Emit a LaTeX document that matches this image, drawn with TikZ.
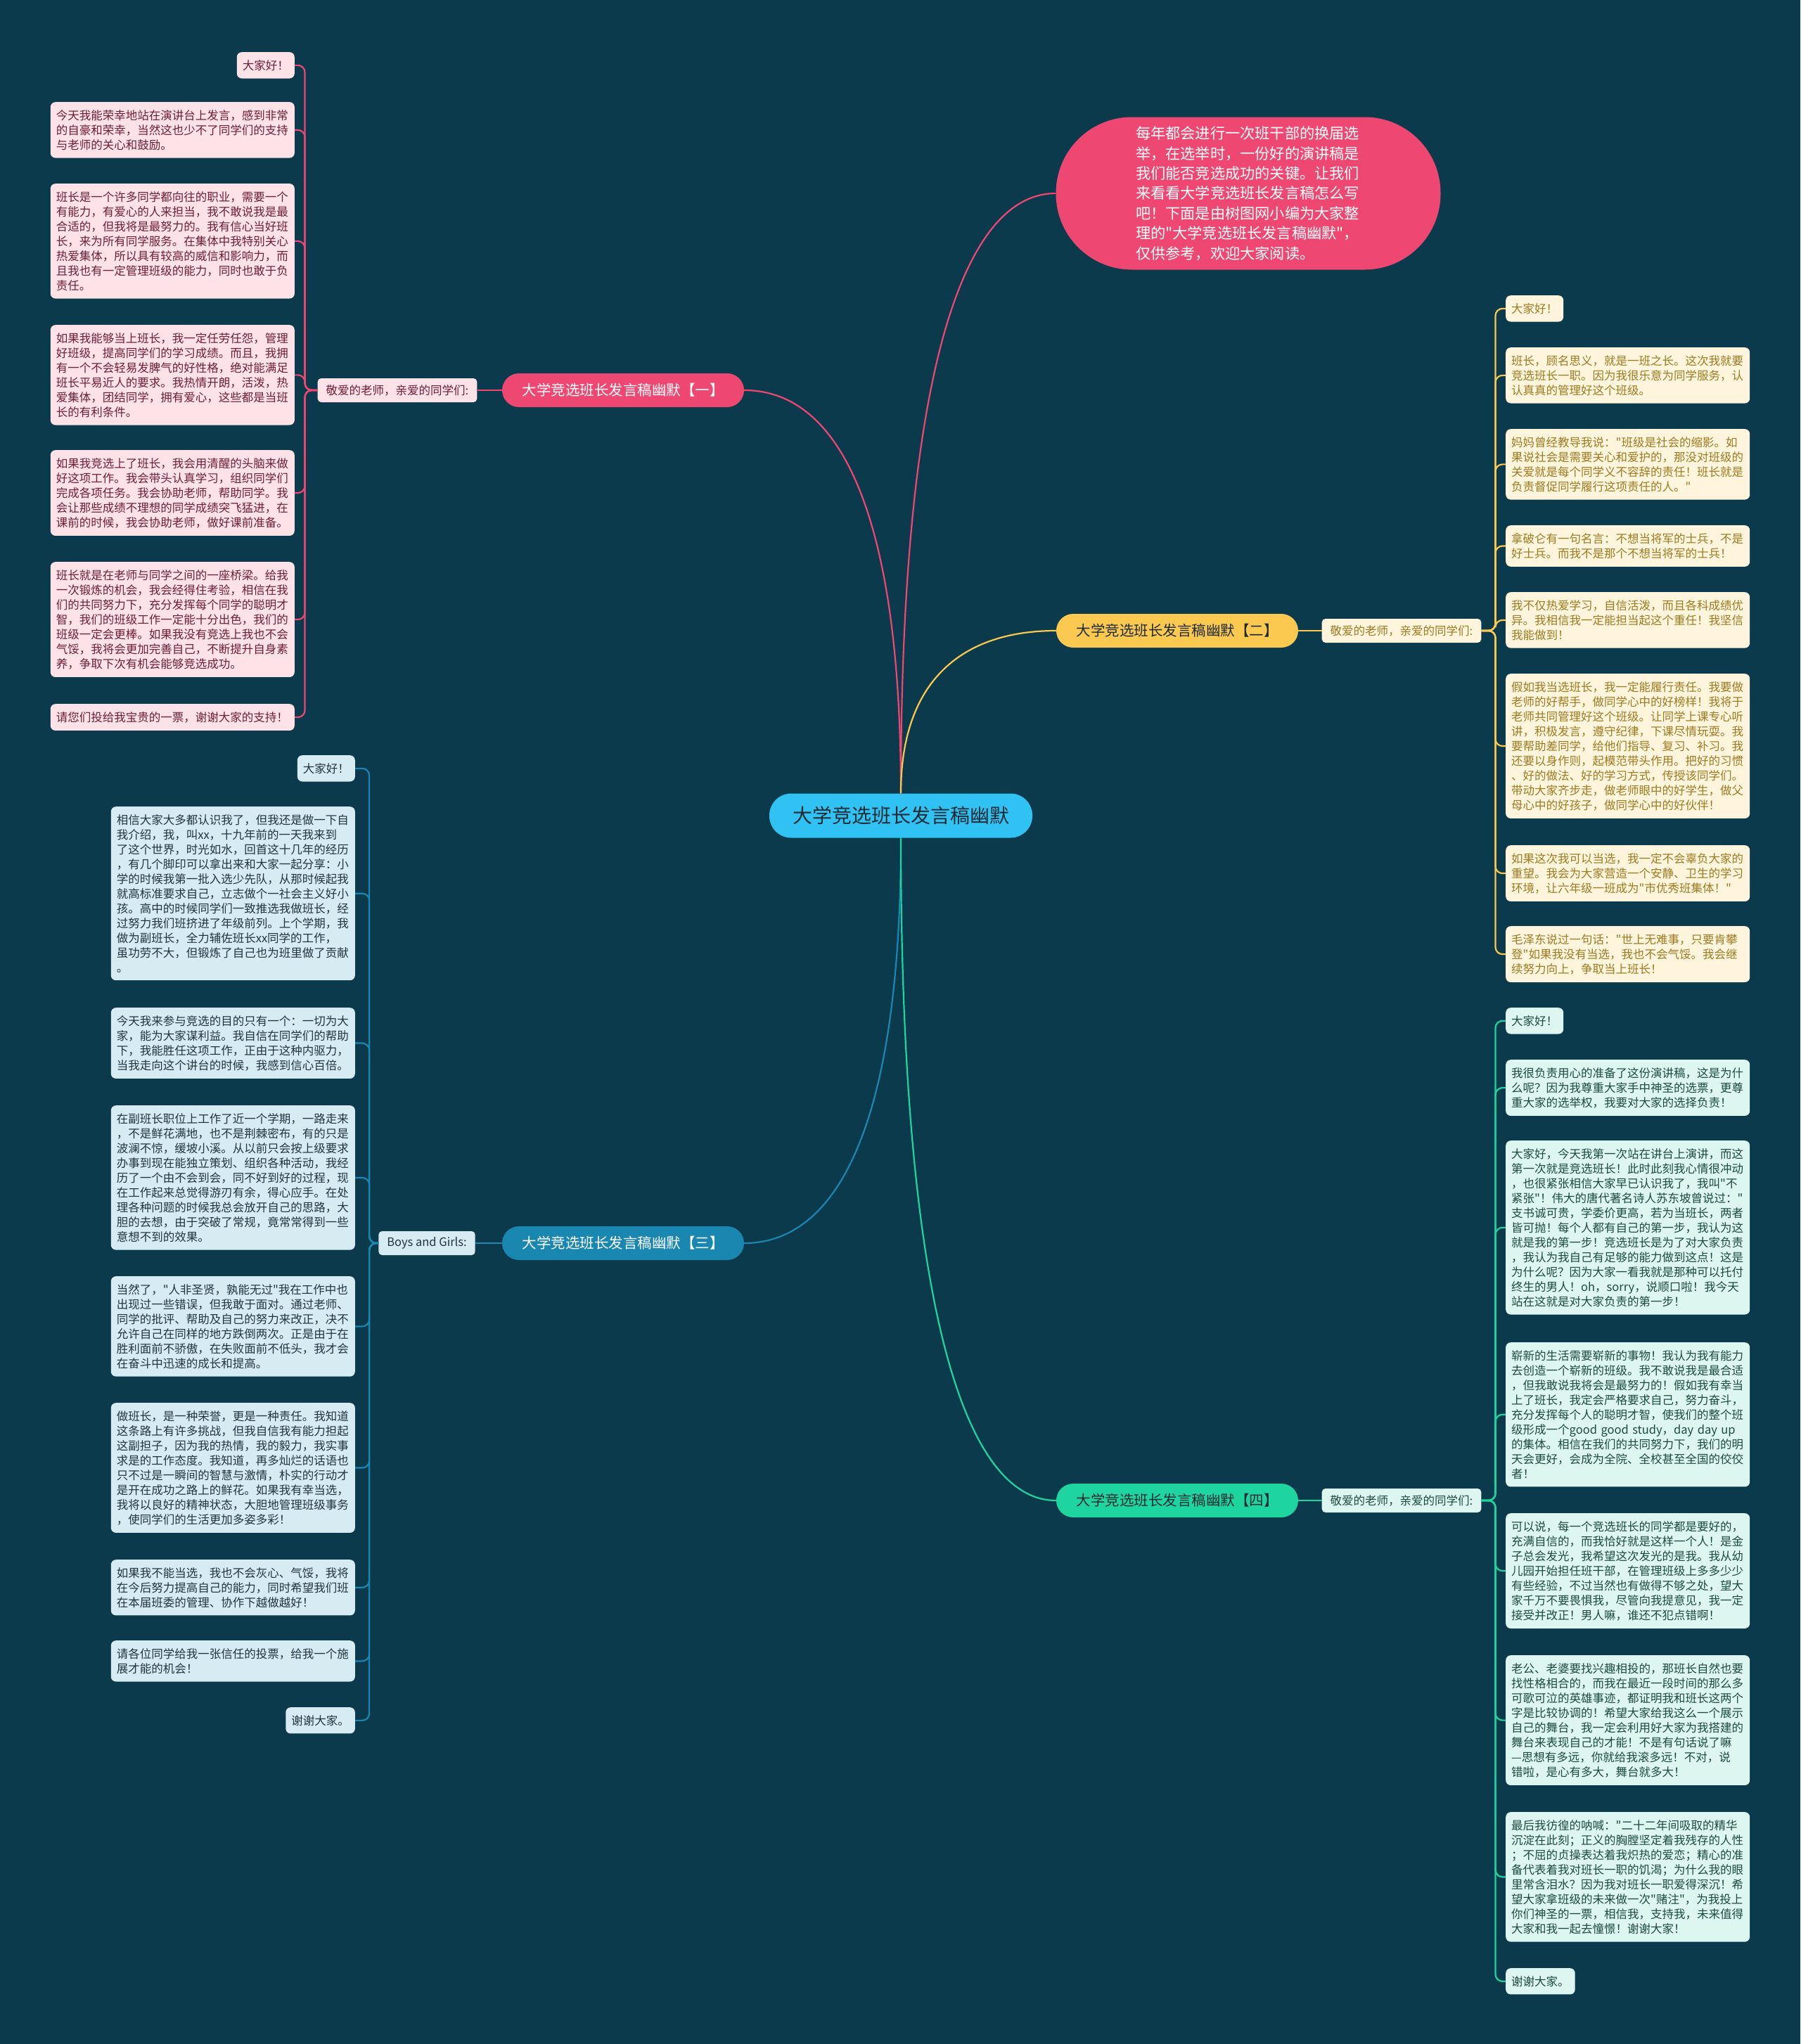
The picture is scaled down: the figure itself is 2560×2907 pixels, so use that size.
\documentclass[tikz,border=0pt]{standalone}
\usepackage{fontspec}
\newfontfamily\zh{Noto Sans CJK SC}
\usetikzlibrary{positioning}
\definecolor{bgc}{HTML}{0B3A4D}
\definecolor{pk}{HTML}{EE4872}
\definecolor{pkl}{HTML}{FDE2E8}
\definecolor{pkt}{HTML}{6E1E38}
\definecolor{yl}{HTML}{FBC850}
\definecolor{yll}{HTML}{FFF5DC}
\definecolor{ylt}{HTML}{9C7A22}
\definecolor{bl}{HTML}{1987B0}
\definecolor{bll}{HTML}{D7EBF2}
\definecolor{blt}{HTML}{1E3640}
\definecolor{gr}{HTML}{1ED5A0}
\definecolor{grl}{HTML}{DDF7F0}
\definecolor{grt}{HTML}{1C4A40}
\definecolor{ctr}{HTML}{30C2F2}
\definecolor{ctrt}{HTML}{1E2B36}

\begin{document}
\begin{tikzpicture}[x=1pt,y=-1pt,font=\zh]
\tikzstyle{leaf}=[rounded corners=7pt,text width=331pt,inner xsep=8pt,inner ysep=11pt,align=left,font=\zh\fontsize{16.5}{21}\selectfont]
\tikzstyle{leafs}=[rounded corners=7pt,inner xsep=8pt,inner ysep=11pt,font=\zh\fontsize{16.5}{21}\selectfont]
\tikzstyle{sub}=[rounded corners=24pt,minimum width=344pt,minimum height=48pt,font=\zh\fontsize{20.5}{24}\selectfont]
\tikzstyle{key}=[rounded corners=5pt,minimum height=34pt,inner xsep=12pt,font=\zh\fontsize{16.5}{20}\selectfont]
\tikzstyle{wire}=[line width=2.2pt]
\tikzstyle{spine}=[line width=2.2pt,rounded corners=10pt]
\fill[bgc] (0,0) rectangle (2560,2907);
\useasboundingbox (0,0) rectangle (2560,2907);

\node[fill=ctr,text=ctrt,rounded corners=31pt,minimum width=374pt,minimum height=63pt,font=\zh\fontsize{28}{32}\selectfont] (c) at (1281,1160) {大学竞选班长发言稿幽默};
\node[fill=pk,text=white,rounded corners=108pt,minimum width=547pt,minimum height=217pt,text width=320pt,align=left,font=\zh\fontsize{21.2}{28.4}\selectfont] (t) at (1775,275) {每年都会进行一次班干部的换届选\\举，在选举时，一份好的演讲稿是\\我们能否竞选成功的关键。让我们\\来看看大学竞选班长发言稿怎么写\\吧！下面是由树图网小编为大家整\\理的"大学竞选班长发言稿幽默"，\\仅供参考，欢迎大家阅读。};

\node[sub,fill=pk,text=white] (b1) at (886,555) {大学竞选班长发言稿幽默【一】};
\node[sub,fill=yl,text=ctrt] (b2) at (1674,897) {大学竞选班长发言稿幽默【二】};
\node[sub,fill=bl,text=white] (b3) at (886,1768) {大学竞选班长发言稿幽默【三】};
\node[sub,fill=gr,text=ctrt] (b4) at (1674,2134) {大学竞选班长发言稿幽默【四】};

\node[key,fill=pkl,text=pkt] (k1) at (565,555) {敬爱的老师，亲爱的同学们:};
\node[key,fill=yll,text=ylt] (k2) at (1993,897) {敬爱的老师，亲爱的同学们:};
\node[key,fill=bll,text=blt] (k3) at (607,1768) {Boys and Girls:};
\node[key,fill=grl,text=grt] (k4) at (1993,2134) {敬爱的老师，亲爱的同学们:};

\node[leafs,fill=pkl,text=pkt,anchor=north east] (n11) at (419,74) {大家好！};
\node[leaf,fill=pkl,text=pkt,anchor=north east] (n12) at (419,145) {今天我能荣幸地站在演讲台上发言，感到非常\\的自豪和荣幸，当然这也少不了同学们的支持\\与老师的关心和鼓励。};
\node[leaf,fill=pkl,text=pkt,anchor=north east] (n13) at (419,261) {班长是一个许多同学都向往的职业，需要一个\\有能力，有爱心的人来担当，我不敢说我是最\\合适的，但我将是最努力的。我有信心当好班\\长，来为所有同学服务。在集体中我特别关心\\热爱集体，所以具有较高的威信和影响力，而\\且我也有一定管理班级的能力，同时也敢于负\\责任。};
\node[leaf,fill=pkl,text=pkt,anchor=north east] (n14) at (419,462) {如果我能够当上班长，我一定任劳任怨，管理\\好班级，提高同学们的学习成绩。而且，我拥\\有一个不会轻易发脾气的好性格，绝对能满足\\班长平易近人的要求。我热情开朗，活泼，热\\爱集体，团结同学，拥有爱心，这些都是当班\\长的有利条件。};
\node[leaf,fill=pkl,text=pkt,anchor=north east] (n15) at (419,640) {如果我竞选上了班长，我会用清醒的头脑来做\\好这项工作。我会带头认真学习，组织同学们\\完成各项任务。我会协助老师，帮助同学。我\\会让那些成绩不理想的同学成绩突飞猛进，在\\课前的时候，我会协助老师，做好课前准备。};
\node[leaf,fill=pkl,text=pkt,anchor=north east] (n16) at (419,799) {班长就是在老师与同学之间的一座桥梁。给我\\一次锻炼的机会，我会经得住考验，相信在我\\们的共同努力下，充分发挥每个同学的聪明才\\智，我们的班级工作一定能十分出色，我们的\\班级一定会更棒。如果我没有竞选上我也不会\\气馁，我将会更加完善自己，不断提升自身素\\养，争取下次有机会能够竞选成功。};
\node[leaf,fill=pkl,text=pkt,anchor=north east] (n17) at (419,1001) {请您们投给我宝贵的一票，谢谢大家的支持！};

\node[leafs,fill=yll,text=ylt,anchor=north west] (n21) at (2141,420) {大家好！};
\node[leaf,fill=yll,text=ylt,anchor=north west] (n22) at (2141,494) {班长，顾名思义，就是一班之长。这次我就要\\竞选班长一职。因为我很乐意为同学服务，认\\认真真的管理好这个班级。};
\node[leaf,fill=yll,text=ylt,anchor=north west] (n23) at (2141,610) {妈妈曾经教导我说："班级是社会的缩影。如\\果说社会是需要关心和爱护的，那没对班级的\\关爱就是每个同学义不容辞的责任！班长就是\\负责督促同学履行这项责任的人。"};
\node[leaf,fill=yll,text=ylt,anchor=north west] (n24) at (2141,747) {拿破仑有一句名言：不想当将军的士兵，不是\\好士兵。而我不是那个不想当将军的士兵！};
\node[leaf,fill=yll,text=ylt,anchor=north west] (n25) at (2141,842) {我不仅热爱学习，自信活泼，而且各科成绩优\\异。我相信我一定能担当起这个重任！我坚信\\我能做到！};
\node[leaf,fill=yll,text=ylt,anchor=north west] (n26) at (2141,958) {假如我当选班长，我一定能履行责任。我要做\\老师的好帮手，做同学心中的好榜样！我将于\\老师共同管理好这个班级。让同学上课专心听\\讲，积极发言，遵守纪律，下课尽情玩耍。我\\要帮助差同学，给他们指导、复习、补习。我\\还要以身作则，起模范带头作用。把好的习惯\\、好的做法、好的学习方式，传授该同学们。\\带动大家齐步走，做老师眼中的好学生，做父\\母心中的好孩子，做同学心中的好伙伴！};
\node[leaf,fill=yll,text=ylt,anchor=north west] (n27) at (2141,1202) {如果这次我可以当选，我一定不会辜负大家的\\重望。我会为大家营造一个安静、卫生的学习\\环境，让六年级一班成为"市优秀班集体！"};
\node[leaf,fill=yll,text=ylt,anchor=north west] (n28) at (2141,1317) {毛泽东说过一句话："世上无难事，只要肯攀\\登"如果我没有当选，我也不会气馁。我会继\\续努力向上，争取当上班长！};

\node[leafs,fill=bll,text=blt,anchor=north east] (n31) at (505,1074) {大家好！};
\node[leaf,fill=bll,text=blt,anchor=north east] (n32) at (505,1147) {相信大家大多都认识我了，但我还是做一下自\\我介绍，我，叫xx，十九年前的一天我来到\\了这个世界，时光如水，回首这十几年的经历\\，有几个脚印可以拿出来和大家一起分享：小\\学的时候我第一批入选少先队，从那时候起我\\就高标准要求自己，立志做个一社会主义好小\\孩。高中的时候同学们一致推选我做班长，经\\过努力我们班挤进了年级前列。上个学期，我\\做为副班长，全力辅佐班长xx同学的工作，\\虽功劳不大，但锻炼了自己也为班里做了贡献\\。};
\node[leaf,fill=bll,text=blt,anchor=north east] (n33) at (505,1433) {今天我来参与竞选的目的只有一个：一切为大\\家，能为大家谋利益。我自信在同学们的帮助\\下，我能胜任这项工作，正由于这种内驱力，\\当我走向这个讲台的时候，我感到信心百倍。};
\node[leaf,fill=bll,text=blt,anchor=north east] (n34) at (505,1572) {在副班长职位上工作了近一个学期，一路走来\\，不是鲜花满地，也不是荆棘密布，有的只是\\波澜不惊，缓坡小溪。从以前只会按上级要求\\办事到现在能独立策划、组织各种活动，我经\\历了一个由不会到会，同不好到好的过程，现\\在工作起来总觉得游刃有余，得心应手。在处\\理各种问题的时候我总会放开自己的思路，大\\胆的去想，由于突破了常规，竟常常得到一些\\意想不到的效果。};
\node[leaf,fill=bll,text=blt,anchor=north east] (n35) at (505,1815) {当然了，"人非圣贤，孰能无过"我在工作中也\\出现过一些错误，但我敢于面对。通过老师、\\同学的批评、帮助及自己的努力来改正，决不\\允许自己在同样的地方跌倒两次。正是由于在\\胜利面前不骄傲，在失败面前不低头，我才会\\在奋斗中迅速的成长和提高。};
\node[leaf,fill=bll,text=blt,anchor=north east] (n36) at (505,1995) {做班长，是一种荣誉，更是一种责任。我知道\\这条路上有许多挑战，但我自信我有能力担起\\这副担子，因为我的热情，我的毅力，我实事\\求是的工作态度。我知道，再多灿烂的话语也\\只不过是一瞬间的智慧与激情，朴实的行动才\\是开在成功之路上的鲜花。如果我有幸当选，\\我将以良好的精神状态，大胆地管理班级事务\\，使同学们的生活更加多姿多彩！};
\node[leaf,fill=bll,text=blt,anchor=north east] (n37) at (505,2218) {如果我不能当选，我也不会灰心、气馁，我将\\在今后努力提高自己的能力，同时希望我们班\\在本届班委的管理、协作下越做越好！};
\node[leaf,fill=bll,text=blt,anchor=north east] (n38) at (505,2333) {请各位同学给我一张信任的投票，给我一个施\\展才能的机会！};
\node[leafs,fill=bll,text=blt,anchor=north east] (n39) at (505,2428) {谢谢大家。};

\node[leafs,fill=grl,text=grt,anchor=north west] (n41) at (2141,1433) {大家好！};
\node[leaf,fill=grl,text=grt,anchor=north west] (n42) at (2141,1507) {我很负责用心的准备了这份演讲稿，这是为什\\么呢？因为我尊重大家手中神圣的选票，更尊\\重大家的选举权，我要对大家的选择负责！};
\node[leaf,fill=grl,text=grt,anchor=north west] (n43) at (2141,1622) {大家好，今天我第一次站在讲台上演讲，而这\\第一次就是竞选班长！此时此刻我心情很冲动\\，也很紧张相信大家早已认识我了，我叫"不\\紧张"！伟大的唐代著名诗人苏东坡曾说过："\\支书诚可贵，学委价更高，若为当班长，两者\\皆可抛！每个人都有自己的第一步，我认为这\\就是我的第一步！竞选班长是为了对大家负责\\，我认为我自己有足够的能力做到这点！这是\\为什么呢？因为大家一看我就是那种可以托付\\终生的男人！oh，sorry，说顺口啦！我今天\\站在这就是对大家负责的第一步！};
\node[leaf,fill=grl,text=grt,anchor=north west] (n44) at (2141,1909) {崭新的生活需要崭新的事物！我认为我有能力\\去创造一个崭新的班级。我不敢说我是最合适\\，但我敢说我将会是最努力的！假如我有幸当\\上了班长，我定会严格要求自己，努力奋斗，\\充分发挥每个人的聪明才智，使我们的整个班\\级形成一个good good study，day day up\\的集体。相信在我们的共同努力下，我们的明\\天会更好，会成为全院、全校甚至全国的佼佼\\者！};
\node[leaf,fill=grl,text=grt,anchor=north west] (n45) at (2141,2152) {可以说，每一个竞选班长的同学都是要好的，\\充满自信的，而我恰好就是这样一个人！是金\\子总会发光，我希望这次发光的是我。我从幼\\儿园开始担任班干部，在管理班级上多多少少\\有些经验，不过当然也有做得不够之处，望大\\家千万不要畏惧我，尽管向我提意见，我一定\\接受并改正！男人嘛，谁还不犯点错啊！};
\node[leaf,fill=grl,text=grt,anchor=north west] (n46) at (2141,2354) {老公、老婆要找兴趣相投的，那班长自然也要\\找性格相合的，而我在最近一段时间的那么多\\可歌可泣的英雄事迹，都证明我和班长这两个\\字是比较协调的！希望大家给我这么一个展示\\自己的舞台，我一定会利用好大家为我搭建的\\舞台来表现自己的才能！不是有句话说了嘛\\—思想有多远，你就给我滚多远！不对，说\\错啦，是心有多大，舞台就多大！};
\node[leaf,fill=grl,text=grt,anchor=north west] (n47) at (2141,2577) {最后我彷徨的呐喊："二十二年间吸取的精华\\沉淀在此刻；正义的胸膛坚定着我残存的人性\\；不屈的贞操表达着我炽热的爱恋；精心的准\\备代表着我对班长一职的饥渴；为什么我的眼\\里常含泪水？因为我对班长一职爱得深沉！希\\望大家拿班级的未来做一次"赌注"，为我投上\\你们神圣的一票，相信我，支持我，未来值得\\大家和我一起去憧憬！谢谢大家！};
\node[leafs,fill=grl,text=grt,anchor=north west] (n48) at (2141,2799) {谢谢大家。};

\draw[wire,pk] (c.north) .. controls +(0,-598) and +(-132,0) .. (t.west);
\draw[wire,pk] (c.north) .. controls +(0,-402) and +(134,0) .. (b1.east);
\draw[wire,yl] (c.north) .. controls +(0,-162) and +(-132,0) .. (b2.west);
\draw[wire,bl] (c.south) .. controls +(0,404) and +(134,0) .. (b3.east);
\draw[wire,gr] (c.south) .. controls +(0,660) and +(-132,0) .. (b4.west);

\draw[wire,pk] (b1.west) -- (k1.east);
\draw[wire,yl] (b2.east) -- (k2.west);
\draw[wire,bl] (b3.west) -- (k3.east);
\draw[wire,gr] (b4.east) -- (k4.west);

\foreach \i in {1,...,7} \draw[spine,pk] (k1.west) -- ++(-18,0) |- (n1\i.east);
\foreach \i in {1,...,8} \draw[spine,yl] (k2.east) -- ++(20,0) |- (n2\i.west);
\foreach \i in {1,...,9} \draw[spine,bl] (k3.west) -- ++(-13,0) |- (n3\i.east);
\foreach \i in {1,...,8} \draw[spine,gr] (k4.east) -- ++(20,0) |- (n4\i.west);
\end{tikzpicture}
\end{document}
